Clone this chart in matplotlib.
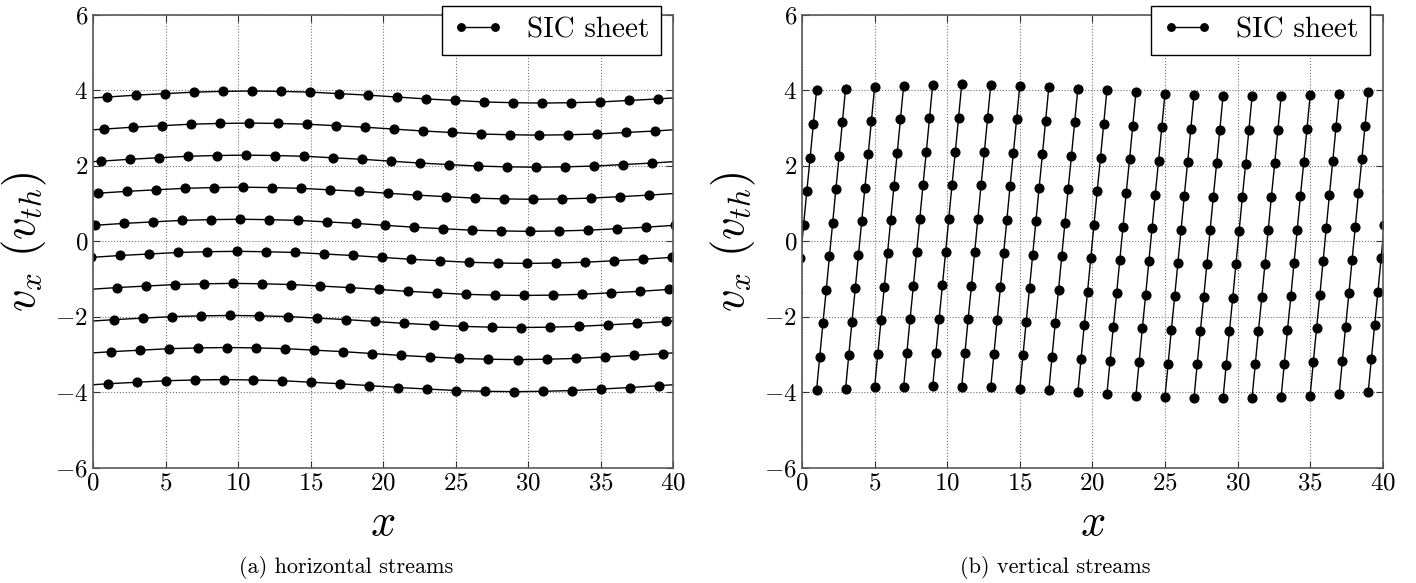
import numpy as np
import matplotlib.pyplot as plt

plt.rcParams['font.family'] = 'serif'
plt.rcParams['font.serif'] = ['cmr10']
plt.rcParams['mathtext.fontset'] = 'cm'
plt.rcParams['axes.formatter.use_mathtext'] = True
plt.rcParams['axes.unicode_minus'] = False

BOX = 40.0  # periodic box length in x

# initial sheet positions along x
x0_grid = [0, 2, 4, 6, 8, 10, 12, 14, 16, 18, 20, 22, 24, 26, 28, 30, 32, 34, 36, 38]
# velocity perturbation carried by the particles at each x0
dv = [0.0, 0.05, 0.09, 0.13, 0.15, 0.16, 0.15, 0.13, 0.09, 0.05,
      0.0, -0.05, -0.09, -0.13, -0.15, -0.16, -0.15, -0.13, -0.09, -0.05]

# horizontal streams: velocity of each stream and how far it has drifted in x
h_levels = [-3.825, -2.975, -2.125, -1.275, -0.425, 0.425, 1.275, 2.125, 2.975, 3.825]
h_shift = [-0.96, -0.74, -0.53, -0.32, -0.11, 0.11, 0.32, 0.53, 0.74, 0.96]

# vertical streams: velocity levels along each sheet and their x drift
v_levels = [-4.0, -3.11, -2.22, -1.33, -0.44, 0.44, 1.33, 2.22, 3.11, 4.0]
v_shift = [-1.0, -0.78, -0.56, -0.33, -0.11, 0.11, 0.33, 0.56, 0.78, 1.0]

captions = ['(a) horizontal streams', '(b) vertical streams']

line_kw = dict(color='k', lw=1.0, marker='o', ms=6.3, mfc='k', mec='k')

fig = plt.figure(figsize=(14.16, 5.83), dpi=100)
ax1 = fig.add_axes([0.0657, 0.1978, 0.4098, 0.7765])
ax2 = fig.add_axes([0.5664, 0.1978, 0.4101, 0.7765])

# (a) each stream is periodic in x, so draw it with its neighbouring images
x0 = np.array(x0_grid, dtype=float)
for lev, sh in zip(h_levels, h_shift):
    xs = x0 + sh
    vs = lev + np.array(dv)
    xx = np.concatenate([xs - BOX, xs, xs + BOX])
    vv = np.tile(vs, 3)
    ax1.plot(xx, vv, **line_kw)

# (b) one sheet per x0, tilted by the free streaming
for j, xj in enumerate(x0_grid):
    xs = xj + np.array(v_shift)
    vs = np.array(v_levels) + dv[j]
    for k in (-1, 0, 1):
        ax2.plot(xs + k * BOX, vs, **line_kw)

for ax, cap in zip((ax1, ax2), captions):
    ax.set_xlim(0, 40)
    ax.set_ylim(-6, 6)
    ax.set_xticks(np.arange(0, 41, 5))
    ax.set_yticks(np.arange(-6, 7, 2))
    ax.grid(True, linestyle=':', color='0.45', lw=0.8)
    ax.tick_params(direction='in', top=True, right=True, length=5,
                   labelsize=18, colors='0.2', labelcolor='k')
    for s in ax.spines.values():
        s.set_color('0.35')
        s.set_linewidth(1.2)
    ax.set_xlabel('$x$', fontsize=32, labelpad=7)
    ax.set_ylabel(r'$v_x\ (v_{th})$', fontsize=32, labelpad=4)
    h = ax.lines[0]
    leg = ax.legend([h], ['SIC sheet'], loc='upper right', numpoints=2,
                    bbox_to_anchor=(0.978, 1.02), borderaxespad=0,
                    fontsize=21, fancybox=False, framealpha=1, edgecolor='k',
                    handlelength=1.75, borderpad=0.38, handletextpad=0.8,
                    markerscale=0.85)
    leg.get_frame().set_linewidth(1.0)

fig.text(0.2445, 0.026, captions[0], ha='center', va='center', fontsize=16)
fig.text(0.745, 0.026, captions[1], ha='center', va='center', fontsize=16)

fig.savefig('out.png', dpi=100)
